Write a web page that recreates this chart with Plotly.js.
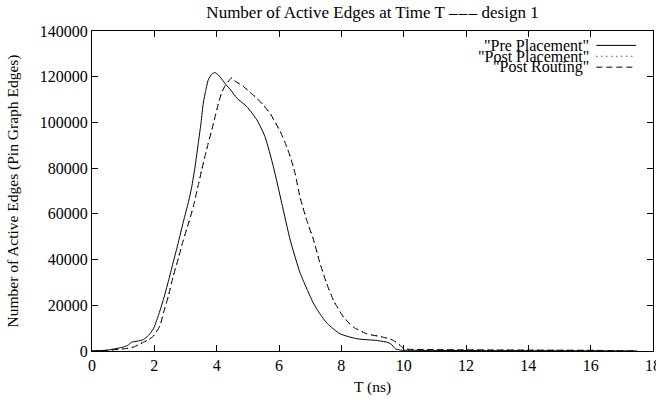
<!DOCTYPE html>
<html>
<head>
<meta charset="utf-8">
<script src="https://cdn.plot.ly/plotly-3.0.1.min.js"></script>
<style>
  html, body { margin: 0; padding: 0; background: #fff; }
  #chart { width: 656px; height: 400px; }
</style>
</head>
<body>
<div id="chart"></div>
<script>
// ---- data ----
const seriesNames = ['"Pre Placement"', '"Post Placement"', '"Post Routing"'];

const preX = [0, 0.5, 1.0, 1.15, 1.27, 1.45, 1.65, 1.81, 1.97, 2.13,
  2.29, 2.45, 2.6, 2.77, 2.93, 3.1, 3.2, 3.3, 3.41, 3.5,
  3.57, 3.65, 3.73, 3.85, 3.95, 4.05, 4.16, 4.3, 4.45, 4.65,
  4.97, 5.29, 5.55, 5.82, 6.09, 6.36, 6.68, 6.9, 7.1, 7.3,
  7.55, 7.96, 8.5, 9.14, 9.46, 9.6, 9.73, 9.9, 10.2, 11,
  12, 13, 14, 15, 16, 17, 17.5];
const preY = [0, 400, 1700, 2500, 3860, 4300, 5000, 6800, 9700, 15500,
  22500, 30500, 38500, 47500, 56500, 65500, 71800, 80000, 90900, 100000,
  108400, 114000, 118600, 121300, 121800, 120800, 119000, 116500, 114200, 110600,
  106900, 101100, 93800, 80600, 64600, 48500, 34000, 27000, 21000, 16500,
  12000, 7500, 5350, 4600, 3860, 3000, 1000, 400, 300, 250,
  200, 180, 150, 120, 100, 50, 0];

const postX = [0, 0.5, 1.0, 1.2, 1.33, 1.5, 1.65, 1.8, 1.97, 2.18,
  2.29, 2.45, 2.6, 2.77, 2.93, 3.1, 3.25, 3.4, 3.52, 3.63,
  3.73, 3.85, 3.95, 4.05, 4.16, 4.27, 4.38, 4.48, 4.6, 4.86,
  5.08, 5.29, 5.5, 5.71, 6.04, 6.2, 6.36, 6.52, 6.68, 6.89,
  7.11, 7.32, 7.53, 7.75, 8.07, 8.39, 8.82, 9.35, 9.67, 9.89,
  10.0, 10.3, 11, 12, 13, 14, 15, 16, 17, 17.5];
const placeY = [0, 300, 900, 1300, 1750, 2800, 3900, 4800, 6600, 11100,
  16600, 24100, 32500, 40600, 48600, 56100, 63200, 72100, 79300, 85600,
  91000, 97100, 102600, 108100, 113100, 116100, 118100, 119600, 118100, 115800,
  113100, 110700, 107600, 104100, 96100, 91100, 85100, 77600, 67100, 57300,
  48600, 38300, 29600, 22200, 14900, 10500, 7600, 6100, 4700, 2500,
  1000, 700, 600, 500, 450, 400, 350, 300, 100, 0];
const routeY = [0, 300, 900, 1300, 1700, 2800, 3860, 4800, 6500, 11000,
  16500, 24000, 32400, 40500, 48500, 56000, 63100, 72000, 79200, 85500,
  90900, 97000, 102500, 108000, 113000, 116000, 118000, 119500, 118000, 115700,
  113000, 110600, 107500, 104000, 96000, 91000, 85000, 77500, 67000, 57200,
  48500, 38200, 29500, 22100, 14800, 10400, 7500, 6000, 4600, 2400,
  960, 700, 600, 500, 450, 400, 350, 300, 100, 0];

const xTicks = [0, 2, 4, 6, 8, 10, 12, 14, 16, 18];
const yTicks = [0, 20000, 40000, 60000, 80000, 100000, 120000, 140000];

// ---- drawing ----
const FONT = '"Liberation Serif", "Times New Roman", serif';
const lineStyles = [
  {color: '#000', width: 1, dash: 'solid'},
  {color: '#000', width: 1, dash: '1px,4px'},
  {color: '#000', width: 1, dash: '6px,4px'}
];

const traces = [
  {x: preX, y: preY, mode: 'lines', name: seriesNames[0], line: Object.assign({shape: 'spline', smoothing: 0.5}, lineStyles[0])},
  {x: postX, y: placeY, mode: 'lines', name: seriesNames[1], line: Object.assign({shape: 'spline', smoothing: 0.5}, lineStyles[1])},
  {x: postX, y: routeY, mode: 'lines', name: seriesNames[2], line: Object.assign({shape: 'spline', smoothing: 0.5}, lineStyles[2])}
];

// gnuplot-style legend: right-aligned text, sample line to its right
const legRowY = [0.955, 0.921, 0.887];
const annotations = seriesNames.map((n, i) => ({
  xref: 'paper', yref: 'paper', x: 0.889, y: legRowY[i],
  xanchor: 'right', yanchor: 'middle', showarrow: false,
  text: n, font: {family: FONT, size: 16, color: '#000'}
}));
const shapes = seriesNames.map((n, i) => ({
  type: 'line', xref: 'paper', yref: 'paper',
  x0: 0.899, x1: 0.970, y0: legRowY[i], y1: legRowY[i],
  line: lineStyles[i]
}));

const axisCommon = {
  showgrid: false, zeroline: false,
  showline: true, linecolor: '#000', linewidth: 1, mirror: 'ticks',
  ticks: 'inside', ticklen: 6, tickcolor: '#000', tickwidth: 1,
  ticklabeloverflow: 'allow',
  tickfont: {family: FONT, size: 16, color: '#000'}
};

const layout = {
  width: 656, height: 400,
  margin: {l: 92, r: 3, t: 31, b: 49},
  paper_bgcolor: '#fff', plot_bgcolor: '#fff',
  showlegend: false,
  title: {
    text: 'Number of Active Edges at Time T \u2013\u200a\u2013\u200a\u2013 design 1',
    font: {family: FONT, size: 17, color: '#000'},
    xref: 'paper', x: 0.5, xanchor: 'center',
    yref: 'container', y: 0.97, yanchor: 'middle'
  },
  xaxis: Object.assign({}, axisCommon, {
    range: [0, 18], tickvals: xTicks, ticktext: xTicks.map(String),
    title: {text: 'T (ns)', font: {family: FONT, size: 15.5, color: '#000'}, standoff: 7}
  }),
  yaxis: Object.assign({}, axisCommon, {
    range: [0, 140000], tickvals: yTicks, ticktext: yTicks.map(String),
    title: {text: 'Number of Active Edges (Pin Graph Edges)', font: {family: FONT, size: 15.5, color: '#000'}, standoff: 17}
  }),
  annotations: annotations,
  shapes: shapes
};

Plotly.newPlot('chart', traces, layout, {staticPlot: true, displayModeBar: false});
</script>
</body>
</html>
